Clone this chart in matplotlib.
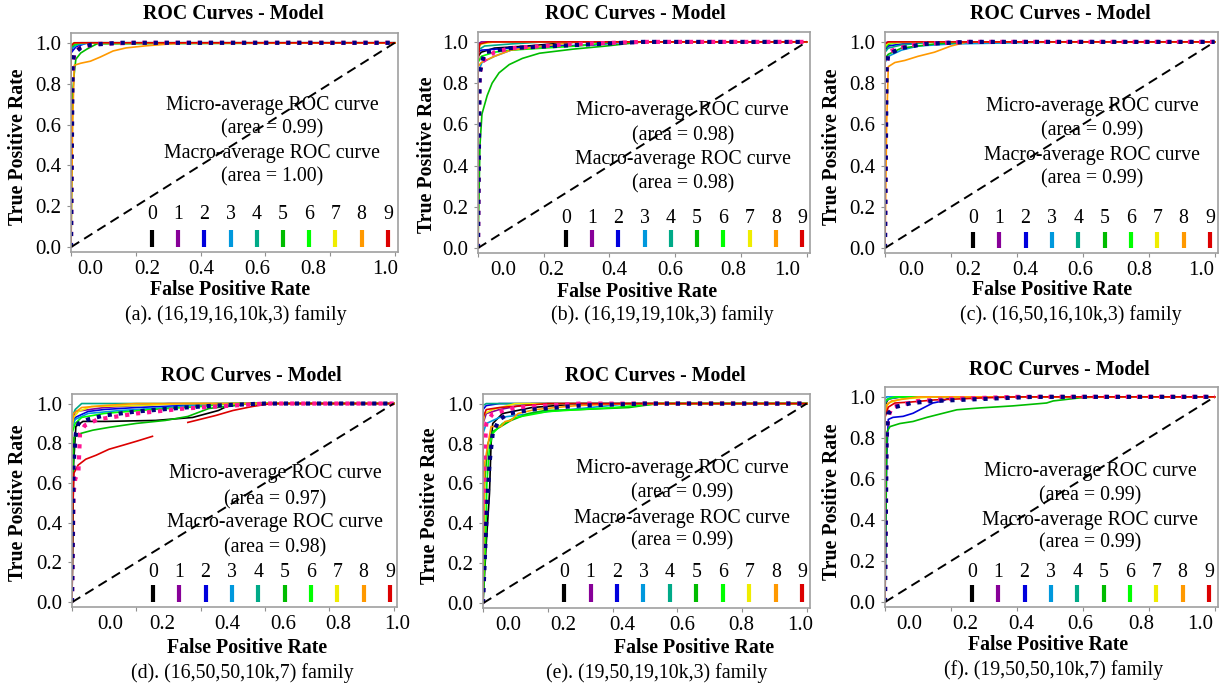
import numpy as np
import matplotlib.pyplot as plt

plt.rcParams["font.family"] = ["Liberation Serif", "DejaVu Serif"]

W, H = 1222, 687
nan = np.nan

captions = [
    "(a). (16,19,16,10k,3) family",
    "(b). (16,19,19,10k,3) family",
    "(c). (16,50,16,10k,3) family",
    "(d). (16,50,50,10k,7) family",
    "(e). (19,50,19,10k,3) family",
    "(f). (19,50,50,10k,7) family",
]
micro_auc = [0.99, 0.98, 0.99, 0.97, 0.99, 0.99]
macro_auc = [1.00, 0.98, 0.99, 0.98, 0.99, 0.99]
tick_labels = ["0.0", "0.2", "0.4", "0.6", "0.8", "1.0"]
class_names = [str(i) for i in range(10)]

# per-class ROC curves (fpr, tpr), classes 0..9
roc_a = [
    ([0, 0, 0.01, 0.03, 1], [0, 0.96, 0.99, 1, 1]),
    ([0, 0, 0.02, 1], [0, 0.98, 1, 1]),
    ([0, 0, 0.015, 0.05, 1], [0, 0.95, 0.98, 1, 1]),
    ([0, 0, 0.02, 0.06, 1], [0, 0.97, 0.99, 1, 1]),
    ([0, 0, 0.01, 1], [0, 0.99, 1, 1]),
    ([0, 0.005, 0.01, 0.015, 0.03, 0.05, 0.08, 1], [0, 0.75, 0.85, 0.92, 0.95, 0.97, 0.995, 1]),
    ([0, 0, 0.01, 0.03, 1], [0, 0.98, 0.99, 1, 1]),
    ([0, 0, 0.01, 1], [0, 0.99, 1, 1]),
    ([0, 0.005, 0.01, 0.03, 0.06, 0.09, 0.13, 0.17, 0.23, 0.35, 1],
     [0, 0.6, 0.89, 0.9, 0.91, 0.93, 0.96, 0.975, 0.985, 1, 1]),
    ([0, 0, 0.01, 1], [0, 0.985, 1, 1]),
]
micro_a = ([0, 0.003, 0.01, 0.03, 0.08, 0.2, 1], [0, 0.8, 0.95, 0.98, 0.995, 1, 1])
macro_a = ([0, 0.005, 0.01, 0.03, 0.06, 0.15, 1], [0, 0.9, 0.95, 0.975, 0.99, 1, 1])

roc_b = [
    ([0, 0, 0.01, 0.05, 0.15, 0.3, 1], [0, 0.93, 0.95, 0.97, 0.98, 1, 1]),
    ([0, 0, 0.01, 1], [0, 0.99, 1, 1]),
    ([0, 0, 0.01, 0.1, 0.25, 0.35, 0.45, 1], [0, 0.95, 0.96, 0.97, 0.98, 0.985, 1, 1]),
    ([0, 0, 0.012, 0.05, 0.1, 0.2, 0.3, 1], [0, 0.85, 0.9, 0.93, 0.96, 0.98, 1, 1]),
    ([0, 0, 0.02, 0.1, 0.2, 1], [0, 0.96, 0.98, 0.99, 1, 1]),
    ([0, 0.006, 0.012, 0.028, 0.043, 0.064, 0.095, 0.135, 0.187, 0.29, 0.39, 0.5, 1],
     [0, 0.5, 0.65, 0.74, 0.8, 0.85, 0.89, 0.92, 0.945, 0.965, 0.98, 1, 1]),
    ([0, 0, 0.01, 0.05, 0.1, 0.2, 0.3, 0.42, 1], [0, 0.9, 0.93, 0.95, 0.96, 0.97, 0.98, 1, 1]),
    ([0, 0, 0.01, 0.05, 1], [0, 0.97, 0.99, 1, 1]),
    ([0, 0, 0.01, 0.05, 0.1, 0.2, 0.3, 1], [0, 0.88, 0.9, 0.93, 0.96, 0.98, 1, 1]),
    ([0, 0, 0.005, 0.03, 1], [0, 0.9, 0.99, 1, 1]),
]
micro_b = ([0, 0.004, 0.01, 0.05, 0.1, 0.3, 0.5, 1], [0, 0.8, 0.9, 0.95, 0.97, 0.99, 1, 1])
macro_b = ([0, 0.005, 0.02, 0.1, 0.3, 0.5, 1], [0, 0.85, 0.95, 0.97, 0.985, 1, 1])

roc_c = [
    ([0, 0, 0.01, 0.04, 1], [0, 0.97, 0.99, 1, 1]),
    ([0, 0, 0.01, 1], [0, 0.995, 1, 1]),
    ([0, 0, 0.01, 0.05, 0.12, 1], [0, 0.96, 0.98, 0.99, 1, 1]),
    ([0, 0, 0.01, 0.05, 0.1, 0.2, 0.55, 1], [0, 0.9, 0.93, 0.96, 0.98, 0.99, 1, 1]),
    ([0, 0, 0.01, 0.05, 0.15, 1], [0, 0.95, 0.97, 0.985, 1, 1]),
    ([0, 0, 0.01, 0.05, 0.15, 0.25, 1], [0, 0.92, 0.94, 0.97, 0.99, 1, 1]),
    ([0, 0, 0.01, 0.05, 1], [0, 0.97, 0.99, 1, 1]),
    ([0, 0, 0.01, 0.1, 1], [0, 0.98, 0.995, 1, 1]),
    ([0, 0.005, 0.01, 0.03, 0.06, 0.1, 0.15, 0.2, 0.25, 1],
     [0, 0.6, 0.88, 0.9, 0.91, 0.93, 0.95, 0.98, 1, 1]),
    ([0, 0, 0.01, 1], [0, 0.99, 1, 1]),
]
micro_c = ([0, 0.003, 0.01, 0.04, 0.1, 0.25, 1], [0, 0.85, 0.95, 0.97, 0.99, 1, 1])
macro_c = ([0, 0.005, 0.01, 0.05, 0.12, 0.25, 1], [0, 0.88, 0.94, 0.97, 0.99, 1, 1])

roc_d = [
    ([0, 0.005, 0.012, 0.034, 0.105, 0.26, 0.375, 0.455, 0.48, 0.55, 1],
     [0, 0.7, 0.885, 0.91, 0.91, 0.915, 0.93, 0.965, 0.985, 1, 1]),
    ([0, 0, 0.01, 0.1, 0.3, 1], [0, 0.9, 0.96, 0.98, 1, 1]),
    ([0, 0, 0.01, 0.05, 0.1, 0.2, 0.35, 0.5, 1], [0, 0.88, 0.93, 0.96, 0.97, 0.98, 0.99, 1, 1]),
    ([0, 0, 0.01, 0.05, 0.15, 0.3, 0.45, 1], [0, 0.88, 0.92, 0.95, 0.965, 0.98, 1, 1]),
    ([0, 0, 0.01, 0.03, 1], [0, 0.93, 0.97, 1, 1]),
    ([0, 0.003, 0.006, 0.028, 0.065, 0.115, 0.2, 0.29, 0.36, 0.425, 0.5, 0.55, 1],
     [0, 0.6, 0.83, 0.85, 0.866, 0.88, 0.9, 0.915, 0.935, 0.975, 0.99, 1, 1]),
    ([0, 0, 0.01, 0.03, 0.1, 0.25, 0.4, 0.5, 1], [0, 0.85, 0.9, 0.93, 0.95, 0.97, 0.985, 1, 1]),
    ([0, 0, 0.005, 0.02, 0.06, 0.2, 0.35, 1], [0, 0.88, 0.93, 0.96, 0.985, 0.99, 1, 1]),
    ([0, 0, 0.005, 0.03, 0.1, 0.2, 1], [0, 0.9, 0.95, 0.98, 0.99, 1, 1]),
    ([0, 0.003, 0.006, 0.019, 0.043, 0.075, 0.115, 0.158, 0.2, 0.25, nan,
      0.36, 0.385, 0.447, 0.5, 0.56, 0.62, 1],
     [0, 0.5, 0.65, 0.69, 0.72, 0.74, 0.77, 0.79, 0.81, 0.835, nan,
      0.905, 0.915, 0.94, 0.965, 0.985, 1, 1]),
]
micro_d = ([0, 0.005, 0.01, 0.02, 0.025, 0.04, 0.08, 0.2, 0.35, 0.5, 0.6, 1],
           [0, 0.55, 0.62, 0.66, 0.85, 0.89, 0.92, 0.95, 0.975, 0.99, 1, 1])
macro_d = ([0, 0.005, 0.012, 0.02, 0.05, 0.1, 0.2, 0.35, 0.45, 0.6, 1],
           [0, 0.7, 0.85, 0.9, 0.92, 0.94, 0.96, 0.98, 0.99, 1, 1])

roc_e = [
    ([0, 0.01, 0.02, 0.025, 0.03, 0.06, 0.15, 0.3, 1], [0, 0.3, 0.55, 0.8, 0.9, 0.95, 0.98, 1, 1]),
    ([0, 0, 0.01, 0.05, 0.15, 1], [0, 0.9, 0.95, 0.97, 1, 1]),
    ([0, 0, 0.01, 0.05, 1], [0, 0.97, 0.99, 1, 1]),
    ([0, 0, 0.01, 0.05, 0.1, 0.2, 0.3, 0.45, 1], [0, 0.85, 0.9, 0.93, 0.94, 0.96, 0.975, 1, 1]),
    ([0, 0, 0.01, 1], [0, 0.99, 1, 1]),
    ([0, 0.005, 0.015, 0.03, 0.055, 0.086, 0.14, 0.19, 0.3, 0.45, 0.54, 1],
     [0, 0.6, 0.8, 0.86, 0.885, 0.915, 0.95, 0.965, 0.97, 0.98, 1, 1]),
    ([0, 0.008, 0.012, 0.02, 0.03, 0.06, 0.1, 0.2, 0.3, 0.4, 0.55, 1],
     [0, 0.3, 0.6, 0.78, 0.85, 0.9, 0.93, 0.96, 0.97, 0.98, 1, 1]),
    ([0, 0, 0.005, 0.03, 0.1, 1], [0, 0.9, 0.95, 0.97, 1, 1]),
    ([0, 0.005, 0.025, 0.055, 0.068, 0.086, 0.108, 0.16, 0.29, 0.45, 1],
     [0, 0.7, 0.885, 0.885, 0.91, 0.915, 0.95, 0.97, 0.99, 1, 1]),
    ([0, 0, 0.01, 0.05, 0.2, 1], [0, 0.93, 0.97, 0.98, 1, 1]),
]
micro_e = ([0, 0.005, 0.01, 0.03, 0.1, 0.3, 1], [0, 0.75, 0.9, 0.95, 0.98, 1, 1])
macro_e = ([0, 0.01, 0.02, 0.03, 0.05, 0.08, 0.15, 0.3, 0.5, 1],
           [0, 0.4, 0.7, 0.85, 0.92, 0.95, 0.97, 0.99, 1, 1])

roc_f = [
    ([0, 0, 0.01, 0.04, 1], [0, 0.96, 0.99, 1, 1]),
    ([0, 0, 0.01, 0.05, 1], [0, 0.97, 0.99, 1, 1]),
    ([0, 0.005, 0.01, 0.024, 0.055, 0.085, 0.115, 0.145, 0.176, 0.2, 1],
     [0, 0.7, 0.89, 0.9, 0.905, 0.92, 0.945, 0.97, 0.98, 1, 1]),
    ([0, 0, 0.005, 1], [0, 0.99, 1, 1]),
    ([0, 0, 0.01, 0.05, 1], [0, 0.97, 0.99, 1, 1]),
    ([0, 0.004, 0.006, 0.015, 0.045, 0.085, 0.127, 0.176, 0.218, 0.288, 0.388, 0.49, 0.51, 0.59, 0.65, 1],
     [0, 0.6, 0.83, 0.855, 0.87, 0.88, 0.9, 0.92, 0.937, 0.946, 0.956, 0.97, 0.98, 0.995, 1, 1]),
    ([0, 0, 0.01, 0.03, 1], [0, 0.98, 0.99, 1, 1]),
    ([0, 0, 0.01, 0.05, 0.15, 1], [0, 0.93, 0.97, 0.99, 1, 1]),
    ([0, 0, 0.005, 0.02, 0.1, 1], [0, 0.9, 0.96, 0.98, 1, 1]),
    ([0, 0, 0.01, 0.03, 0.08, 0.15, 0.3, 0.4, 1], [0, 0.9, 0.95, 0.97, 0.975, 0.985, 0.995, 1, 1]),
]
micro_f = ([0, 0.004, 0.01, 0.02, 0.1, 0.2, 0.4, 1], [0, 0.8, 0.9, 0.95, 0.98, 0.99, 1, 1])
macro_f = ([0, 0.005, 0.01, 0.03, 0.08, 0.15, 0.3, 0.45, 1], [0, 0.8, 0.92, 0.95, 0.97, 0.98, 0.99, 1, 1])

class_rocs = [roc_a, roc_b, roc_c, roc_d, roc_e, roc_f]
micro_rocs = [micro_a, micro_b, micro_c, micro_d, micro_e, micro_f]
macro_rocs = [macro_a, macro_b, macro_c, macro_d, macro_e, macro_f]

# layout in pixels: axes box (l, t, r, b), title, ylabel, xlabel, caption centres
boxes = [(71, 33, 398, 252), (478, 32, 810, 253), (885, 32, 1218, 253),
         (72, 394, 397, 607), (483, 394, 810, 608), (885, 387, 1218, 607)]
title_xy = [(233, 14), (635, 14), (1060, 14), (251, 376), (655, 376), (1059, 370)]
ylabel_xy = [(18, 147), (427, 155), (832, 147), (18, 503), (430, 506), (832, 502)]
xlabel_xy = [(230, 290), (637, 292), (1052, 290), (247, 648), (694, 648), (1048, 645)]
caption_xy = [(236, 315), (662, 315), (1071, 315), (242, 673), (657, 673), (1054, 670)]
xtick_frac = [
    [0.058, 0.232, 0.40, 0.57, 0.74, 0.96],
    [0.075, 0.22, 0.41, 0.58, 0.77, 0.93],
    [0.08, 0.25, 0.42, 0.585, 0.765, 0.95],
    [0.117, 0.277, 0.477, 0.65, 0.82, 1.0],
    [0.077, 0.245, 0.425, 0.61, 0.79, 0.97],
    [0.072, 0.24, 0.41, 0.585, 0.77, 0.945],
]
note_x = [0.615, 0.617, 0.622, 0.625, 0.609, 0.616]
note_y = [
    [0.671, 0.562, 0.452, 0.342],
    [0.647, 0.529, 0.421, 0.312],
    [0.661, 0.552, 0.443, 0.335],
    [0.629, 0.502, 0.399, 0.277],
    [0.654, 0.537, 0.420, 0.313],
    [0.614, 0.505, 0.395, 0.291],
]
key_x = [(0.248, 0.969), (0.265, 0.976), (0.264, 0.976), (0.249, 0.978), (0.248, 0.976), (0.261, 0.973)]
key_y = [(0.169, 0.100, 0.023), (0.158, 0.104, 0.027), (0.158, 0.095, 0.023),
         (0.164, 0.103, 0.023), (0.168, 0.112, 0.028), (0.159, 0.100, 0.023)]

XMIN, XMAX = 0.0, 1.01
YMIN, YMAX = -0.024, 1.048
FS = 14.3
cmap = plt.cm.nipy_spectral

fig = plt.figure(figsize=(W / 100, H / 100), dpi=100)


def fx(px):
    return px / W


def fy(py):
    return 1 - py / H


for p in range(6):
    l, t, r, b = boxes[p]
    ax = fig.add_axes([fx(l), fy(b), (r - l) / W, (b - t) / H])

    for k, (fpr, tpr) in enumerate(class_rocs[p]):
        ax.plot(fpr, tpr, color=cmap(k / 10), lw=1.2)
    ax.plot(*micro_rocs[p], color="deeppink", ls=":", lw=3)
    ax.plot(*macro_rocs[p], color="navy", ls=":", lw=3)
    ax.plot([0, 1], [0, 1], color="k", ls=(0, (5, 3)), lw=1.4)

    ax.set_xlim(XMIN, XMAX)
    ax.set_ylim(YMIN, YMAX)
    ax.set_xticks(np.arange(0, 1.01, 0.2))
    ax.set_xticklabels([])
    pos = [XMIN + f * (XMAX - XMIN) for f in xtick_frac[p]]
    ax.set_xticks(pos, labels=tick_labels, minor=True)
    ax.set_yticks(np.arange(0, 1.01, 0.2), labels=tick_labels)
    ax.tick_params(axis="x", which="major", length=3, color="#909090")
    ax.tick_params(axis="x", which="minor", length=0, pad=6, labelsize=15)
    ax.tick_params(axis="y", length=3, pad=4, labelsize=15, color="#909090")
    for s in ax.spines.values():
        s.set_color("#a0a0a0")
        s.set_linewidth(1.2)

    lines = ["Micro-average ROC curve", "(area = %.2f)" % micro_auc[p],
             "Macro-average ROC curve", "(area = %.2f)" % macro_auc[p]]
    for txt, yy in zip(lines, note_y[p]):
        ax.text(note_x[p], yy, txt, transform=ax.transAxes, ha="center",
                va="center", fontsize=FS)

    x0, x9 = key_x[p]
    ty, by0, by1 = key_y[p]
    for k, name in enumerate(class_names):
        kx = x0 + k * (x9 - x0) / 9
        ax.text(kx, ty, name, transform=ax.transAxes, ha="center",
                va="center", fontsize=FS)
        ax.plot([kx, kx], [by1, by0], transform=ax.transAxes,
                color=cmap(k / 10), lw=3, solid_capstyle="butt")

    fig.text(fx(title_xy[p][0]), fy(title_xy[p][1]), "ROC Curves - Model",
             ha="center", va="center", fontsize=FS, fontweight="bold")
    fig.text(fx(ylabel_xy[p][0]), fy(ylabel_xy[p][1]), "True Positive Rate",
             ha="center", va="center", rotation=90, fontsize=FS, fontweight="bold")
    fig.text(fx(xlabel_xy[p][0]), fy(xlabel_xy[p][1]), "False Positive Rate",
             ha="center", va="center", fontsize=FS, fontweight="bold")
    fig.text(fx(caption_xy[p][0]), fy(caption_xy[p][1]), captions[p],
             ha="center", va="center", fontsize=FS)

fig.savefig("out.png", dpi=100)
